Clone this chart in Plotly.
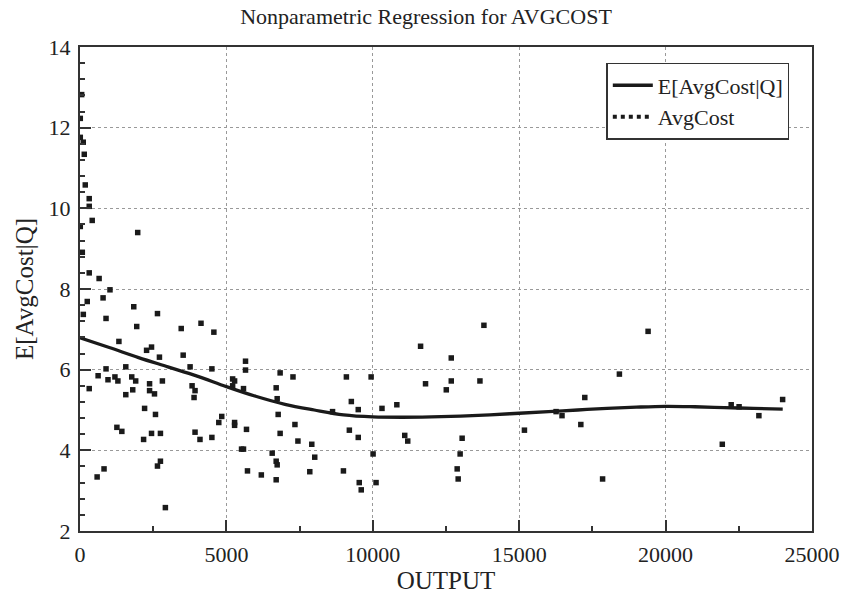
import plotly.graph_objects as go

# Observed data (OUTPUT, AvgCost)
output = [57, 10, 10, 112, 146, 180, 315, 315, 417, 10, 1971, 79, 315, 653,
          1024, 248, 788, 113, 1836, 889, 2646, 1937, 3457, 4133, 4572, 1329, 2274, 2443,
          2713, 3524, 5653, 889, 1564, 3760, 4504, 5653, 619, 1193, 1767, 956, 1294, 1902,
          2814, 5213, 5280, 5213, 315, 3828, 5584, 2376, 1801, 2376, 3929, 1564, 2544, 3895,
          2206, 2578, 4841, 4740, 5280, 5280, 5686, 1260, 1429, 2443, 2747, 3929, 2172, 4098,
          4504, 5517, 5584, 2747, 2646, 821, 585, 5720, 6193, 2916,
          6835, 7274, 6700, 6734, 6768, 7341, 6835, 7443, 7916, 6564, 6700, 6734, 6700, 8017,
          7848, 8625, 9098, 9943, 9267, 9503, 10314, 10821, 9199, 9503, 11091, 11193, 10010,
          8997, 9537, 9605, 10111, 11632, 12680, 11801, 12680, 12510,
          13795, 13659, 13051, 12983, 12882, 12916, 15179, 17240, 16260, 16462, 17105, 17848,
          18422, 19402, 22240, 22510, 23186, 23997, 21936]
avgcost = [12.82, 12.23, 11.76, 11.64, 11.34, 10.58, 10.24, 10.05, 9.70, 9.55, 9.40, 8.91, 8.40, 8.26,
           7.98, 7.69, 7.78, 7.37, 7.56, 7.27, 7.39, 7.07, 7.02, 7.15, 6.93, 6.70, 6.48, 6.56,
           6.31, 6.36, 6.21, 6.02, 6.07, 6.07, 6.02, 5.99, 5.85, 5.82, 5.82, 5.75, 5.72, 5.72,
           5.72, 5.77, 5.72, 5.60, 5.53, 5.60, 5.53, 5.65, 5.50, 5.48, 5.48, 5.38, 5.40, 5.31,
           5.04, 4.89, 4.84, 4.69, 4.69, 4.62, 4.52, 4.57, 4.47, 4.42, 4.42, 4.45, 4.27, 4.27,
           4.32, 4.03, 4.03, 3.73, 3.61, 3.54, 3.34, 3.49, 3.39, 2.58,
           5.92, 5.82, 5.55, 5.28, 4.89, 4.64, 4.42, 4.23, 4.15, 3.93, 3.73, 3.64, 3.27, 3.83,
           3.47, 4.96, 5.82, 5.82, 5.21, 5.01, 5.04, 5.13, 4.50, 4.32, 4.37, 4.23, 3.91,
           3.49, 3.20, 3.02, 3.20, 6.58, 6.29, 5.65, 5.72, 5.50,
           7.10, 5.72, 4.30, 3.91, 3.54, 3.29, 4.50, 5.31, 4.96, 4.86, 4.64, 3.29,
           5.89, 6.95, 5.13, 5.08, 4.86, 5.26, 4.15]

# Nonparametric regression curve E[AvgCost|Q]
curve_q = [0, 1000, 2000, 3000, 4000, 5000, 6000, 7000, 8000, 9000, 10000, 11000, 12000,
           13000, 14000, 15000, 16000, 17000, 18000, 19000, 20000, 21000, 22000, 23000, 24000]
curve_e = [6.79, 6.55, 6.30, 6.07, 5.84, 5.58, 5.34, 5.14, 5.00, 4.88, 4.83, 4.82, 4.83,
           4.85, 4.88, 4.92, 4.96, 5.00, 5.04, 5.07, 5.09, 5.08, 5.06, 5.04, 5.02]

FONT = "Liberation Serif"
AX = "#333333"
TXT = "#222222"

fig = go.Figure()
fig.add_trace(go.Scatter(x=output, y=avgcost, mode="markers",
                         marker=dict(symbol="square", size=5.5, color="#1a1a1a"),
                         showlegend=False, name="AvgCost"))
fig.add_trace(go.Scatter(x=curve_q, y=curve_e, mode="lines", line_shape="spline",
                         line=dict(color="#1a1a1a", width=3.3), name="E[AvgCost|Q]"))
fig.add_trace(go.Scatter(x=[None], y=[None], mode="lines",
                         line=dict(color="#1a1a1a", width=4, dash="dot"), name="AvgCost"))

axis_common = dict(showline=True, linecolor=AX, linewidth=2, mirror=True,
                   ticks="inside", ticklen=11, tickwidth=1.5, tickcolor=AX,
                   showgrid=True, gridcolor="#999999", griddash="dot", gridwidth=1,
                   zeroline=False, tickfont=dict(family=FONT, size=22, color=TXT),
                   title_font=dict(family=FONT, size=25, color=TXT),
                   ticklabelstandoff=3)

fig.update_xaxes(range=[0, 25000], dtick=5000, tickformat="d",
                 title_text="OUTPUT", title_standoff=2,
                 minor=dict(dtick=2500, ticks="inside", ticklen=5, tickcolor=AX, showgrid=False),
                 **axis_common)
fig.update_yaxes(range=[2, 14], dtick=2, title_text="E[AvgCost|Q]", title_standoff=8,
                 minor=dict(dtick=0.4, ticks="inside", ticklen=5, tickcolor=AX, showgrid=False),
                 **axis_common)

fig.update_layout(
    width=852, height=599,
    margin=dict(l=80, r=32, t=47, b=63),
    paper_bgcolor="white", plot_bgcolor="white",
    title=dict(text="Nonparametric Regression for AVGCOST", x=0.5, xanchor="center",
               y=0.973, yanchor="middle",
               font=dict(family=FONT, size=22, color=TXT)),
    legend=dict(x=0.719, y=0.967, xanchor="left", yanchor="top",
                bgcolor="white", bordercolor=AX, borderwidth=1.5,
                font=dict(family=FONT, size=22, color=TXT),
                tracegroupgap=0, itemwidth=40),
)

fig.write_html("out.html", config={"displayModeBar": False},
               post_script="document.body.style.margin='0';document.body.style.overflow='hidden';")
